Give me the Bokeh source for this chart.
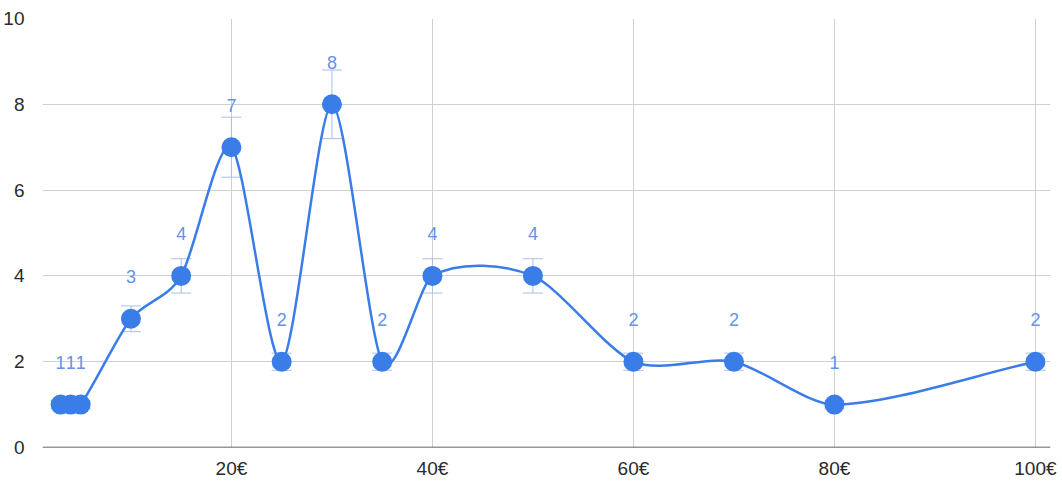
from bokeh.plotting import figure
from bokeh.models import Range1d, FixedTicker, Span, Whisker, TeeHead, ColumnDataSource
from bokeh.core.properties import value
from bokeh.embed import file_html
from bokeh.resources import INLINE
import numpy as np

# Price points (€) and counts
prices = [3, 4, 5, 10, 15, 20, 25, 30, 35, 40, 50, 60, 70, 80, 100]
counts = [1, 1, 1, 3, 4, 7, 2, 8, 2, 4, 4, 2, 2, 1, 2]
errors = [0.1, 0.1, 0.1, 0.3, 0.4, 0.7, 0.2, 0.8, 0.2, 0.4, 0.4, 0.2, 0.2, 0.1, 0.2]
x_ticks = [20, 40, 60, 80, 100]
x_tick_labels = ["20€", "40€", "60€", "80€", "100€"]
y_ticks = [0, 2, 4, 6, 8, 10]

BLUE = "#3a7de8"
FONT = "Liberation Sans"

p = figure(width=1062, height=481, output_backend="svg", toolbar_location=None,
           x_range=Range1d(1.2, 101.5), y_range=Range1d(0, 10),
           min_border_left=42, min_border_right=12, min_border_top=18, min_border_bottom=34)
p.outline_line_color = None
p.background_fill_color = "white"
p.border_fill_color = "white"

for ax in (p.xaxis[0], p.yaxis[0]):
    ax.axis_line_color = None
    ax.major_tick_line_color = None
    ax.minor_tick_line_color = None
    ax.major_label_text_font = FONT
    ax.major_label_text_font_size = "19px"
    ax.major_label_text_color = "#2a2a2a"

p.xaxis.ticker = FixedTicker(ticks=x_ticks)
p.xaxis.major_label_overrides = {t: s for t, s in zip(x_ticks, x_tick_labels)}
p.xaxis.major_label_standoff = 4
p.yaxis.ticker = FixedTicker(ticks=y_ticks)
p.yaxis.major_label_standoff = 12

p.xgrid.ticker = FixedTicker(ticks=x_ticks)
p.ygrid.ticker = FixedTicker(ticks=y_ticks)
for g in (p.xgrid[0], p.ygrid[0]):
    g.grid_line_color = "#d0d0d0"
    g.grid_line_width = 1

p.add_layout(Span(location=0, dimension="width", line_color="#333333", line_width=1.5))

# Error bars
xs = np.array(prices, dtype=float)
ys = np.array(counts, dtype=float)
es = np.array(errors, dtype=float)
err_src = ColumnDataSource(dict(x=xs, lo=ys - es, hi=ys + es))
wh = Whisker(source=err_src, base="x", lower="lo", upper="hi", dimension="height",
             line_color="#aabfe6", line_width=1, level="underlay",
             upper_head=TeeHead(size=20, line_color="#aabfe6", line_width=1),
             lower_head=TeeHead(size=20, line_color="#aabfe6", line_width=1))
p.add_layout(wh)

# Smooth curve: cubic Hermite segments (slopes from neighbouring points),
# drawn as Bézier curves with control arms scaled by each segment's width
n = len(xs)
slope = np.empty(n)
slope[1:-1] = (ys[2:] - ys[:-2]) / (xs[2:] - xs[:-2])
slope[0] = (ys[1] - ys[0]) / (xs[1] - xs[0])
slope[-1] = (ys[-1] - ys[-2]) / (xs[-1] - xs[-2])
tension = 0.27
h = xs[1:] - xs[:-1]
x0 = xs[:-1]; y0 = ys[:-1]; x1 = xs[1:]; y1 = ys[1:]
cx0 = x0 + h * tension
cy0 = y0 + slope[:-1] * h * tension
cx1 = x1 - h * tension
cy1 = y1 - slope[1:] * h * tension
p.bezier(x0=x0, y0=y0, x1=x1, y1=y1, cx0=cx0, cy0=cy0, cx1=cx1, cy1=cy1,
         line_color=BLUE, line_width=2.5)

p.scatter(x=prices, y=counts, size=20, fill_color=BLUE, line_color=BLUE, line_width=0)

p.text(x=prices, y=counts, text=[str(c) for c in counts], y_offset=-42,
       text_align="center", text_baseline="middle",
       text_font=value(FONT), text_font_size="18px", text_color="#6394e8")

open("out.html", "w").write(file_html(p, INLINE))
